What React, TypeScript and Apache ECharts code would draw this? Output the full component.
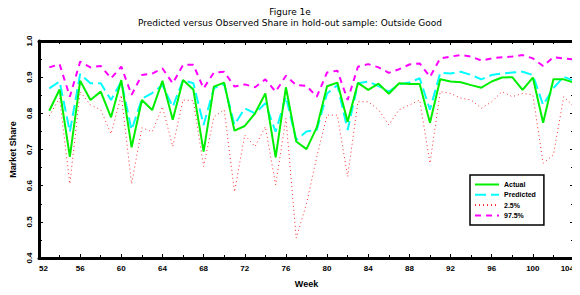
import React, { useEffect, useRef } from "react";
import * as echarts from "echarts";

const weeks: number[] = Array.from({ length: 52 }, (_, i) => 53 + i);

const actual: number[] = [
  0.807, 0.866, 0.68, 0.89, 0.837, 0.86, 0.789, 0.892, 0.706, 0.837, 0.809, 0.89, 0.782,
  0.892, 0.866, 0.694, 0.874, 0.885, 0.752, 0.765, 0.8, 0.855, 0.678, 0.872, 0.722, 0.701,
  0.761, 0.875, 0.885, 0.777, 0.884, 0.865, 0.882, 0.854, 0.883, 0.881, 0.881, 0.774, 0.894,
  0.888, 0.886, 0.878, 0.871, 0.888, 0.899, 0.9, 0.865, 0.899, 0.774, 0.894, 0.894, 0.885,
];
const predicted: number[] = [
  0.869, 0.888, 0.749, 0.909, 0.883, 0.883, 0.837, 0.888, 0.754, 0.84, 0.856, 0.878, 0.818,
  0.892, 0.883, 0.768, 0.87, 0.88, 0.768, 0.814, 0.8, 0.828, 0.749, 0.846, 0.726, 0.75,
  0.754, 0.855, 0.878, 0.754, 0.883, 0.888, 0.875, 0.86, 0.88, 0.885, 0.897, 0.81, 0.912,
  0.91, 0.915, 0.906, 0.894, 0.906, 0.91, 0.913, 0.915, 0.906, 0.823, 0.87, 0.901, 0.89,
];
const lower: number[] = [
  0.793, 0.842, 0.605, 0.86, 0.823, 0.81, 0.743, 0.85, 0.605, 0.76, 0.749, 0.818, 0.708,
  0.837, 0.835, 0.653, 0.79, 0.81, 0.583, 0.74, 0.708, 0.763, 0.602, 0.786, 0.455, 0.55,
  0.68, 0.795, 0.795, 0.625, 0.832, 0.832, 0.81, 0.768, 0.81, 0.823, 0.837, 0.662, 0.86,
  0.855, 0.842, 0.837, 0.814, 0.832, 0.86, 0.846, 0.855, 0.851, 0.662, 0.685, 0.846, 0.818,
];
const upper: number[] = [
  0.927, 0.936, 0.846, 0.943, 0.927, 0.931, 0.897, 0.929, 0.851, 0.906, 0.91, 0.924, 0.883,
  0.934, 0.934, 0.869, 0.913, 0.915, 0.874, 0.88, 0.872, 0.894, 0.86, 0.904, 0.878, 0.876,
  0.846, 0.913, 0.918, 0.837, 0.929, 0.936, 0.927, 0.912, 0.922, 0.935, 0.938, 0.901, 0.952,
  0.957, 0.961, 0.957, 0.946, 0.952, 0.955, 0.957, 0.961, 0.952, 0.931, 0.955, 0.952, 0.949,
];

const seriesNames = ["Actual", "Predicted", "2.5%", "97.5%"];
const titleText = "Figure 1e";
const subtitleText = "Predicted versus Observed Share in hold-out sample: Outside Good";
const xName = "Week";
const yName = "Market Share";

const FONT = "'DejaVu Sans', sans-serif";
const FONT2 = "'Liberation Sans', Arial, sans-serif";

export default function App() {
  const ref = useRef<HTMLDivElement>(null);
  useEffect(() => {
    if (!ref.current) return;
    const chart = echarts.init(ref.current, undefined, { renderer: "svg" });
    const pairs = (vals: number[]) => weeks.map((w, i) => [w, vals[i]]);
    const axisCommon = {
      axisLine: { show: true, lineStyle: { color: "#000", width: 3 } },
      splitLine: { show: false },
    };
    const tick = { show: true, inside: true, length: 4, lineStyle: { color: "#000", width: 1 } };
    const minor = { show: true, splitNumber: 2, length: 3, lineStyle: { color: "#000", width: 1 } };
    chart.setOption({
      animation: false,
      backgroundColor: "#fff",
      title: [
        {
          text: titleText,
          left: "center",
          top: 2,
          textStyle: { fontFamily: FONT, fontSize: 9, fontWeight: "normal", color: "#000" },
        },
        {
          text: subtitleText,
          left: "center",
          top: 13,
          textStyle: { fontFamily: FONT, fontSize: 9, fontWeight: "normal", color: "#000" },
        },
      ],
      grid: { left: 37, right: 6, top: 41, bottom: 37, containLabel: false },
      legend: {
        left: 470,
        top: 175,
        orient: "vertical",
        itemWidth: 24,
        itemHeight: 6,
        itemGap: 3.3,
        padding: [6, 8, 6, 4],
        borderColor: "#000",
        borderWidth: 1.5,
        backgroundColor: "#fff",
        data: seriesNames,
        itemStyle: { opacity: 0 },
        textStyle: { fontFamily: FONT2, fontSize: 7, fontWeight: "bold", color: "#000" },
      },
      xAxis: [
        {
          type: "value",
          min: 52,
          max: 104,
          interval: 4,
          name: xName,
          nameLocation: "middle",
          nameGap: 21,
          nameTextStyle: { fontFamily: FONT2, fontSize: 9, fontWeight: "bold", color: "#000" },
          ...axisCommon,
          axisTick: tick,
          minorTick: minor,
          axisLabel: {
            fontFamily: FONT2,
            fontSize: 8,
            fontWeight: "bold",
            color: "#000",
            margin: 6,
            alignMinLabel: "left",
            alignMaxLabel: "right",
          },
        },
        {
          type: "value",
          position: "top",
          min: 52,
          max: 104,
          interval: 4,
          ...axisCommon,
          axisTick: tick,
          minorTick: minor,
          axisLabel: { show: false },
        },
      ],
      yAxis: [
        {
          type: "value",
          min: 0.4,
          max: 1.0,
          interval: 0.1,
          name: yName,
          nameLocation: "middle",
          nameGap: 22,
          nameTextStyle: { fontFamily: FONT2, fontSize: 9, fontWeight: "bold", color: "#000" },
          ...axisCommon,
          axisTick: tick,
          minorTick: minor,
          axisLabel: {
            fontFamily: FONT2,
            fontSize: 8,
            fontWeight: "bold",
            color: "#000",
            rotate: 90,
            margin: 6,
            formatter: (v: number) => v.toFixed(1),
          },
        },
        {
          type: "value",
          position: "right",
          min: 0.4,
          max: 1.0,
          interval: 0.1,
          ...axisCommon,
          axisTick: tick,
          minorTick: minor,
          axisLabel: { show: false },
        },
      ],
      series: [
        {
          name: "2.5%",
          type: "line",
          data: pairs(lower),
          symbol: "none",
          lineStyle: { color: "#ff3030", width: 1, type: [1, 3] },
          itemStyle: { color: "#ff3030" },
          z: 2,
        },
        {
          name: "97.5%",
          type: "line",
          data: pairs(upper),
          symbol: "none",
          lineStyle: { color: "#ff00ff", width: 2, type: [6, 5] },
          itemStyle: { color: "#ff00ff" },
          z: 3,
        },
        {
          name: "Predicted",
          type: "line",
          data: pairs(predicted),
          symbol: "none",
          lineStyle: { color: "#00ffff", width: 2, type: [11, 5] },
          itemStyle: { color: "#00ffff" },
          z: 4,
        },
        {
          name: "Actual",
          type: "line",
          data: pairs(actual),
          symbol: "none",
          lineStyle: { color: "#00ee00", width: 2 },
          itemStyle: { color: "#00ee00" },
          z: 5,
        },
      ],
    });
    return () => chart.dispose();
  }, []);
  return <div ref={ref} style={{ width: 580, height: 295, margin: -8 }} />;
}
